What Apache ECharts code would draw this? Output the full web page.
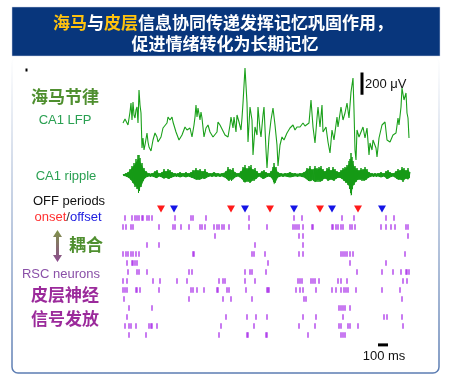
<!DOCTYPE html>
<html>
<head>
<meta charset="utf-8">
<script src="https://cdn.jsdelivr.net/npm/echarts@6/dist/echarts.min.js"></script>
<style>
  html, body { margin: 0; padding: 0; background: #fff; }
  #main { width: 450px; height: 377px; }
</style>
</head>
<body>
<div id="main"></div>
<script>
// CA1 LFP: [time ms, voltage uV]
var lfpPoints = [
  [0,18],[20,54],[40,72],[50,0],[70,117],[80,198],[90,45],[100,207],[110,90],[120,63],[130,135],[140,162],[150,18],[160,315],[170,180],[180,108],
  [190,-207],[200,-117],[210,-225],[220,-180],[240,-72],[250,-153],[260,-198],[280,-234],[300,-135],[320,-72],[340,-108],[350,-153],[380,-108],
  [400,-27],[420,-9],[440,18],[450,72],[470,45],[490,72],[500,27],[530,-63],[560,-135],[590,-90],[620,-18],[640,-45],[670,-27],[690,-108],
  [710,0],[720,72],[730,180],[740,72],[750,153],[760,135],[770,45],[780,117],[790,63],[810,-108],[830,-27],[840,-45],[850,0],[870,-63],
  [900,-108],[940,-63],[950,27],[970,0],[990,-18],[1020,-90],[1050,-108],[1070,0],[1080,72],[1100,-27],[1110,72],[1130,-63],[1140,90],
  [1160,27],[1180,-45],[1190,63],[1200,198],[1220,513],[1240,198],[1250,-153],[1270,162],[1290,45],[1300,-270],[1320,-18],[1340,-90],
  [1350,162],[1370,-45],[1380,-108],[1400,90],[1410,162],[1430,-225],[1440,-387],[1460,-108],[1480,45],[1500,153],[1520,0],[1540,-180],
  [1550,-369],[1570,-180],[1590,-108],[1610,-135],[1640,-72],[1670,-27],[1700,0],[1720,-45],[1740,-18],[1770,-18],[1800,18],[1820,-9],
  [1840,-27],[1860,18],[1880,225],[1900,-18],[1920,-162],[1940,63],[1950,162],[1970,-18],[1990,180],[2000,-63],[2030,-18],[2050,-153],
  [2070,-252],[2090,-45],[2110,-135],[2140,72],[2150,-18],[2180,162],[2200,45],[2220,108],[2240,198],[2260,63],[2280,297],[2300,423],
  [2310,135],[2320,-225],[2330,-315],[2340,-45],[2360,-108],[2380,-90],[2400,-18],[2420,-117],[2440,-27],[2460,-270],[2470,-162],
  [2490,-225],[2500,-135],[2530,-207],[2540,-288],[2560,-117],[2590,0],[2620,27],[2640,-135],[2670,-153],[2700,-90],[2730,-72],
  [2750,63],[2760,0],[2780,162],[2790,333],[2810,225],[2830,288],[2840,108],[2850,63],[2860,-117]
];

// CA1 ripple envelope: [time ms, upper uV, lower uV]
var rippleEnv = [
  [0,9,9],[30,18,18],[50,27,27],[70,54,45],[90,81,72],[110,108,108],[130,144,126],[150,180,162],[160,180,180],[170,153,144],
  [190,108,108],[210,63,54],[230,36,27],[260,18,18],[290,18,18],[320,36,27],[340,45,36],[360,18,18],[390,27,27],[410,54,45],
  [430,36,27],[450,54,45],[470,45,36],[490,27,27],[520,18,18],[550,18,18],[570,27,27],[600,18,18],[630,27,27],[650,18,18],
  [680,27,27],[700,45,36],[730,63,54],[750,45,45],[770,54,54],[800,36,36],[820,54,45],[840,27,27],[870,18,18],[910,27,18],
  [950,18,18],[990,18,18],[1030,36,36],[1050,72,63],[1070,54,54],[1100,63,54],[1120,27,27],[1150,18,18],[1180,36,36],[1200,72,63],
  [1220,90,90],[1240,63,63],[1260,81,72],[1280,90,81],[1300,54,54],[1320,63,54],[1340,36,36],[1360,18,18],[1390,36,36],[1410,45,45],
  [1430,27,27],[1460,18,18],[1480,36,27],[1500,72,63],[1510,108,108],[1530,72,72],[1550,27,27],[1580,18,18],[1620,18,18],[1670,27,27],
  [1720,18,18],[1770,18,18],[1810,27,27],[1840,63,54],[1870,81,72],[1890,54,54],[1920,81,81],[1940,63,63],[1960,72,63],[1980,81,72],
  [2000,54,54],[2020,36,36],[2040,63,54],[2060,72,63],[2080,45,45],[2100,72,63],[2120,54,54],[2140,36,36],[2160,27,27],[2180,45,36],
  [2200,63,54],[2220,72,72],[2240,90,90],[2260,126,126],[2270,144,162],[2280,198,243],[2290,162,180],[2300,126,126],[2320,81,90],
  [2340,63,63],[2360,45,45],[2380,63,54],[2400,54,54],[2420,72,63],[2440,54,45],[2460,27,27],[2490,18,18],[2520,18,18],[2550,18,18],
  [2580,27,27],[2610,18,18],[2630,36,36],[2650,45,45],[2670,27,27],[2700,18,18],[2730,36,36],[2750,54,54],[2770,45,45],[2790,72,63],
  [2810,63,63],[2830,45,36],[2850,63,54],[2870,27,27]
];

// OFF period onset / offset times (ms)
var offOnset = [380, 1080, 1470, 1970, 2350];
var offOffset = [510, 1220, 1710, 2090, 2590];

// RSC neuron spike times (ms), one list per neuron
var spikeRows = [
  [20,90,120,140,160,190,200,240,260,290,520,680,700,830,1260,1710,1790,2190,2310,2630,2710],
  [0,30,80,100,360,500,520,580,660,770,790,820,910,940,960,990,1010,1060,1260,1440,1700,1720,1740,1760,1800,1890,1900,2090,2100,2130,2150,2180,2200,2270,2290,2320,2580,2630,2680,2720,2830,2850],
  [920,1760,1800,2850],
  [240,360,1320,1800],
  [0,30,50,80,100,130,160,700,710,1290,1310,1420,1760,1800,2180,2200,2220,2240,2270,2300,2820],
  [40,90,100,120,140,1450,2270,2630],
  [50,140,160,240,660,690,1220,1270,1290,1430,2340,2590,2700,2780,2830,2840,2860],
  [0,40,300,370,540,640,960,1000,1020,1220,1320,1750,1770,1790,1880,1900,1920,1960,2150,2180,2240,2800,2840],
  [0,20,40,130,140,170,360,680,700,740,810,940,950,1040,1060,1230,1440,1450,1460,1730,1770,1800,1930,2090,2130,2180,2210,2230,2250,2330,2590,2770],
  [10,660,1000,1080,1290,1810,1830,2790],
  [60,290,2160,2180,2200,2220,2270],
  [40,1030,1240,1330,1440,1800,1930,2200,2610,2640,2790],
  [20,60,80,130,260,280,290,340,980,1310,1760,1920,2160,2180,2250,2270,2350,2800],
  [60,230,960,1240,1250,1430,1440,1850,2180,2200,2220]
];

// scale bars
var voltBar = [[2390, 272], [2390, 472]];   // 200 uV
var timeBar = [[2550, 14.1], [2650, 14.1]]; // 100 ms

var chart = echarts.init(document.getElementById('main'), null, { renderer: 'canvas' });

var spikeData = [];
spikeRows.forEach(function (row, i) {
  row.forEach(function (t) { spikeData.push([t, i]); });
});

function timeAxis(idx) {
  return { type: 'value', gridIndex: idx, min: 0, max: 2870, show: false };
}

var font = '"Liberation Sans", Arial, sans-serif';
var cjk = '"Noto Sans CJK SC", sans-serif';
var green = '#4f8f2f';
var purple = '#9b2a9b';

var option = {
  backgroundColor: '#fff',
  animation: false,
  grid: [
    { left: 123, width: 287, top: 65, height: 105 },
    { left: 123, width: 287, top: 150, height: 55 },
    { left: 123, width: 287, top: 204.5, height: 135 }
  ],
  xAxis: [timeAxis(0), timeAxis(1), timeAxis(2)],
  yAxis: [
    { type: 'value', gridIndex: 0, min: -405, max: 540, show: false },
    { type: 'value', gridIndex: 1, min: -270, max: 225, show: false },
    { type: 'value', gridIndex: 2, min: -1.5, max: 13.5, inverse: true, show: false }
  ],
  series: [
    {
      // ripple band: envelope outline plus the oscillation between its edges
      type: 'custom',
      xAxisIndex: 1, yAxisIndex: 1,
      data: [[0, 0]],
      renderItem: function (params, api) {
        var top = rippleEnv.map(function (d) { return api.coord([d[0], d[1] * 0.8]); });
        var bottom = rippleEnv.map(function (d) { return api.coord([d[0], -d[2] * 0.8]); });
        var zig = [];
        rippleEnv.forEach(function (d, i) {
          zig.push(api.coord([d[0], d[1]]));
          if (i < rippleEnv.length - 1) {
            var n = rippleEnv[i + 1];
            zig.push(api.coord([(d[0] + n[0]) / 2, -Math.min(d[2], n[2])]));
          }
        });
        return {
          type: 'group',
          children: [
            {
              type: 'polygon',
              shape: { points: top.concat(bottom.reverse()) },
              style: { fill: '#1c9c1c' }
            },
            {
              type: 'polyline',
              shape: { points: zig },
              style: { stroke: '#159a15', lineWidth: 1, fill: null }
            }
          ]
        };
      }
    },
    {
      type: 'line',
      xAxisIndex: 0, yAxisIndex: 0,
      data: lfpPoints,
      showSymbol: false,
      clip: false,
      lineStyle: { color: '#1aa01a', width: 1.1 }
    },
    {
      type: 'line',
      xAxisIndex: 0, yAxisIndex: 0,
      data: voltBar,
      showSymbol: false,
      lineStyle: { color: '#000', width: 3 }
    },
    {
      type: 'scatter',
      xAxisIndex: 2, yAxisIndex: 2,
      data: offOnset.map(function (t) { return [t, -1]; }),
      symbol: 'triangle', symbolRotate: 180, symbolSize: [8, 7],
      itemStyle: { color: '#ff1a1a', opacity: 1 }
    },
    {
      type: 'scatter',
      xAxisIndex: 2, yAxisIndex: 2,
      data: offOffset.map(function (t) { return [t, -1]; }),
      symbol: 'triangle', symbolRotate: 180, symbolSize: [8, 7],
      itemStyle: { color: '#1414e6', opacity: 1 }
    },
    {
      type: 'scatter',
      xAxisIndex: 2, yAxisIndex: 2,
      data: spikeData,
      symbol: 'rect', symbolSize: [1.4, 5.5],
      itemStyle: { color: '#a21fe8', opacity: 0.85 }
    },
    {
      type: 'line',
      xAxisIndex: 2, yAxisIndex: 2,
      data: timeBar,
      showSymbol: false,
      clip: false,
      lineStyle: { color: '#000', width: 3 }
    }
  ],
  graphic: [
    // outer frame
    {
      type: 'rect', z: -1,
      shape: { x: 12, y: 57, width: 427, height: 316, r: 6 },
      style: {
        fill: '#fff', lineWidth: 1.5,
        stroke: new echarts.graphic.LinearGradient(0, 0, 0, 1, [
          { offset: 0, color: '#ffffff' },
          { offset: 0.35, color: '#c2cee2' },
          { offset: 1, color: '#5b7cb2' }
        ])
      }
    },
    // title banner
    {
      type: 'rect',
      shape: { x: 12, y: 7, width: 428, height: 49 },
      style: { fill: '#08367c', stroke: '#c8d2e4', lineWidth: 0.5 }
    },
    {
      type: 'text', x: 223, y: 22.5,
      style: {
        text: '{y|海马}与{y|皮层}信息协同传递发挥记忆巩固作用，',
        fill: '#fff', font: 'bold 17px ' + cjk,
        align: 'center', verticalAlign: 'middle',
        rich: { y: { fill: '#ffc20e', font: 'bold 17px ' + cjk } }
      }
    },
    {
      type: 'text', x: 225, y: 43.5,
      style: {
        text: '促进情绪转化为长期记忆',
        fill: '#fff', font: 'bold 17px ' + cjk,
        align: 'center', verticalAlign: 'middle'
      }
    },
    { type: 'rect', shape: { x: 25.5, y: 68.5, width: 2, height: 3 }, style: { fill: '#000' } },
    // left labels
    {
      type: 'text', x: 65, y: 97,
      style: { text: '海马节律', fill: green, font: 'bold 17px ' + cjk, align: 'center', verticalAlign: 'middle' }
    },
    {
      type: 'text', x: 65, y: 120,
      style: { text: 'CA1 LFP', fill: '#2aa052', font: '13px ' + font, align: 'center', verticalAlign: 'middle' }
    },
    {
      type: 'text', x: 66, y: 176.5,
      style: { text: 'CA1 ripple', fill: '#2aa052', font: '13px ' + font, align: 'center', verticalAlign: 'middle' }
    },
    {
      type: 'text', x: 69, y: 201.5,
      style: { text: 'OFF periods', fill: '#111', font: '13px ' + font, align: 'center', verticalAlign: 'middle' }
    },
    {
      type: 'text', x: 68, y: 217,
      style: {
        text: '{r|onset}{k|/}{b|offset}', fill: '#333', font: '13px ' + font,
        align: 'center', verticalAlign: 'middle',
        rich: {
          r: { fill: '#ff3030', font: '13px ' + font },
          k: { fill: '#333', font: '13px ' + font },
          b: { fill: '#2020e0', font: '13px ' + font }
        }
      }
    },
    {
      type: 'polygon',
      shape: {
        points: [[57.5, 230], [62, 237], [59, 237], [59, 255], [62, 255], [57.5, 262], [53, 255], [56, 255], [56, 237], [53, 237]]
      },
      style: {
        fill: new echarts.graphic.LinearGradient(0, 0, 0, 1, [
          { offset: 0, color: '#7f9448' },
          { offset: 1, color: '#8c4a90' }
        ])
      }
    },
    {
      type: 'text', x: 86, y: 245,
      style: { text: '耦合', fill: green, font: 'bold 17px ' + cjk, align: 'center', verticalAlign: 'middle' }
    },
    {
      type: 'text', x: 61, y: 274,
      style: { text: 'RSC neurons', fill: '#8a50a8', font: '13px ' + font, align: 'center', verticalAlign: 'middle' }
    },
    {
      type: 'text', x: 65, y: 295,
      style: { text: '皮层神经', fill: purple, font: 'bold 17px ' + cjk, align: 'center', verticalAlign: 'middle' }
    },
    {
      type: 'text', x: 65, y: 319,
      style: { text: '信号发放', fill: purple, font: 'bold 17px ' + cjk, align: 'center', verticalAlign: 'middle' }
    },
    // scale bar labels
    {
      type: 'text', x: 365, y: 84,
      style: { text: '200 μV', fill: '#111', font: '13px ' + font, align: 'left', verticalAlign: 'middle' }
    },
    {
      type: 'text', x: 384, y: 356,
      style: { text: '100 ms', fill: '#111', font: '13px ' + font, align: 'center', verticalAlign: 'middle' }
    }
  ]
};

chart.setOption(option);
</script>
</body>
</html>
